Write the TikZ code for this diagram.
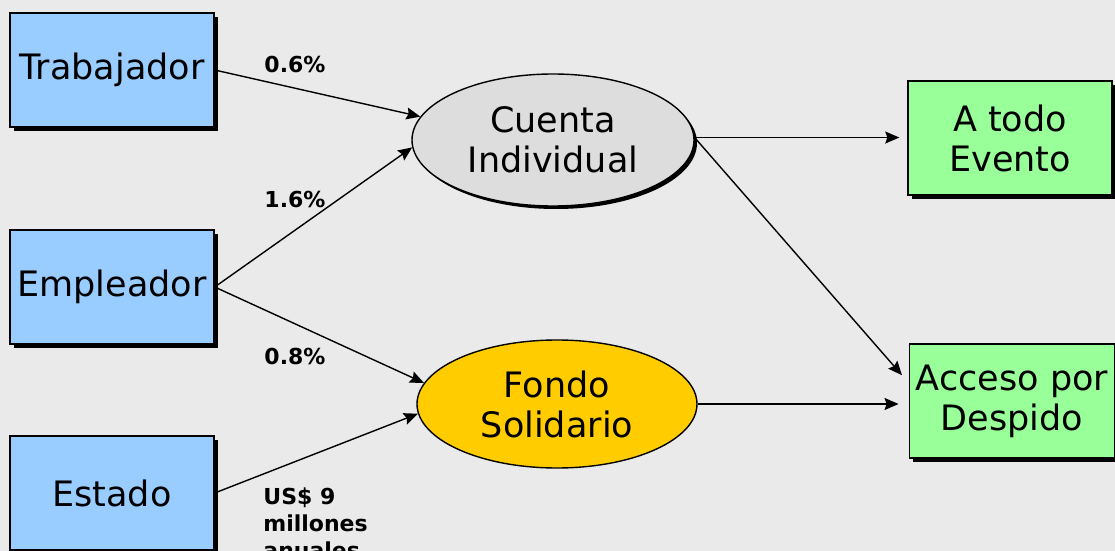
\documentclass[tikz,border=0pt]{standalone}
\usepackage{fontspec}
\setmainfont{DejaVu Sans}
\usepackage{xcolor}
\usepackage{tikz}
\usetikzlibrary{positioning, calc, arrows.meta, shadows, shapes.geometric}
\definecolor{BoxBlue}{HTML}{99CCFF}
\definecolor{BoxGreen}{HTML}{99FF99}
\definecolor{EllGray}{HTML}{DDDDDD}
\definecolor{EllGold}{HTML}{FFCC00}
\definecolor{BackGray}{HTML}{EAEAEA}
\tikzset{
    srcnode/.style={
        draw, line width=0.7pt, fill=BoxBlue, minimum width=102pt, minimum height=57pt,
        font=\fontsize{17.5}{20}\selectfont,
        drop shadow={shadow xshift=2pt, shadow yshift=-2pt, fill=black, opacity=1}
    },
    outnode/.style={
        srcnode, fill=BoxGreen, align=center
    },
    fundnode/.style={
        ellipse, draw, line width=0.7pt, inner sep=0pt, align=center,
        font=\fontsize{17.5}{20}\selectfont
    },
    flow/.style={
        -{Stealth[length=7pt, width=6pt, inset=1pt]}, line width=0.7pt
    },
    ratelabel/.style={
        font=\fontsize{11}{13.5}\selectfont\bfseries, align=left
    }
}
\begin{document}
\begin{tikzpicture}[x=0.5pt, y=-0.5pt]
    \fill[BackGray] (0,0) rectangle (1115,551);
    \useasboundingbox (0,0) rectangle (1115,551);
    % aportantes
    \node[srcnode] (trab) at (112,70) {Trabajador};
    \node[srcnode] (empl) at (112,287) {Empleador};
    \node[srcnode] (estado) at (112,493) {Estado};
    % fondos
    \node[fundnode, fill=EllGray, minimum width=141pt, minimum height=66pt,
          drop shadow={shadow xshift=1.5pt, shadow yshift=-1.5pt, fill=black, opacity=1}]
          (cuenta) at (553,140) {Cuenta\\Individual};
    \node[fundnode, fill=EllGold, minimum width=140pt, minimum height=64pt]
          (fondo) at (557,404) {Fondo\\Solidario};
    % beneficios
    \node[outnode] (evento) at (1010,138) {A todo\\Evento};
    \node[outnode] (despido) at (1012,401) {Acceso por\\Despido};
    % flujos
    \draw[flow] (trab.east) -- (cuenta.170);
    \draw[flow] (empl.east) -- (cuenta.183);
    \draw[flow] (empl.east) -- (fondo.171);
    \draw[flow] (estado.east) -- (fondo.184);
    \draw[flow, shorten >=4pt] (cuenta.1) -- (cuenta.1 -| evento.west);
    \draw[flow, shorten >=5pt] (cuenta.1) -- (despido.170);
    \draw[flow, shorten >=5pt] (fondo.east) -- (fondo.east -| despido.west);
    % tasas
    \node[ratelabel] (l1) at (295,64) {0.6\%};
    \node[ratelabel] (l2) at (295,199) {1.6\%};
    \node[ratelabel] (l3) at (295,356) {0.8\%};
    \node[ratelabel, anchor=north west, inner sep=0pt] (l4) at (263,487) {US\$ 9\\millones\\anuales};
\end{tikzpicture}
\end{document}
